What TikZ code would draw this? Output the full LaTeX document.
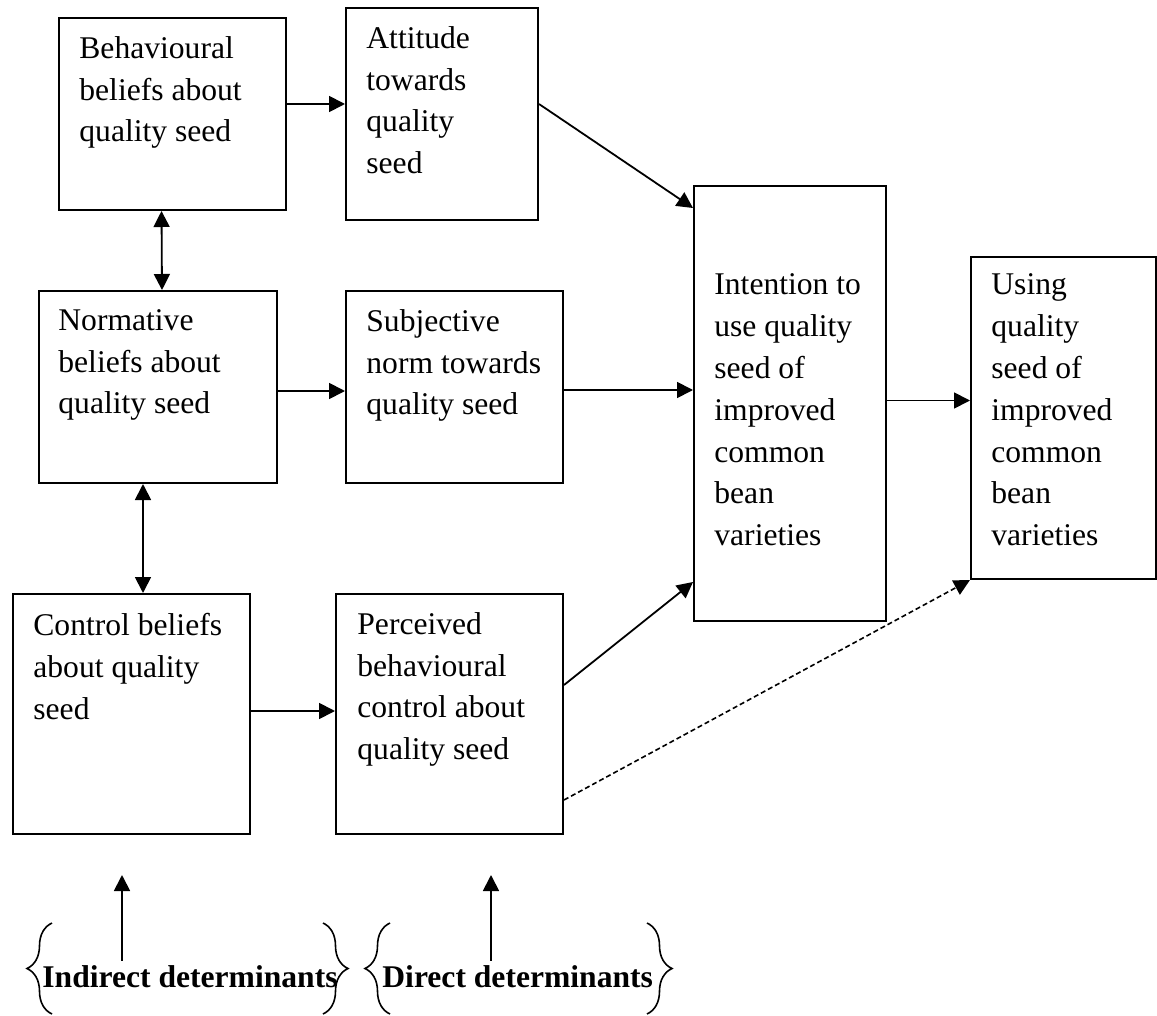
\documentclass[tikz,border=0pt]{standalone}
\usepackage{fontspec}
\setmainfont{Liberation Serif}
\usetikzlibrary{arrows.meta,decorations.pathreplacing}
\newcommand{\boxfont}{\fontsize{15.8pt}{20.9pt}\selectfont}
\tikzset{
  tpbbox/.style={draw,line width=1pt,anchor=north west,inner sep=0pt},
  tpbtext/.style={anchor=north west,inner sep=0pt,align=left,font=\boxfont},
  detlabel/.style={anchor=base west,inner sep=0pt,font=\boxfont\bfseries},
  arrow/.style={-{Triangle[length=8pt,width=8pt]},line width=0.9pt},
  biarrow/.style={{Triangle[length=8pt,width=8pt]}-{Triangle[length=8pt,width=8pt]},line width=0.9pt},
  dasharrow/.style={arrow,line width=0.8pt,dash pattern=on 2.5pt off 1.5pt},
  detbrace/.style={decorate,decoration={brace,amplitude=12.5pt},line width=0.8pt}
}
\begin{document}
\begin{tikzpicture}[x=0.5pt,y=-0.5pt]
\useasboundingbox (0,0) rectangle (1157,1016);
% boxes
\node[tpbbox,minimum width=113.5pt,minimum height=96pt] (beh) at (58,17) {};
\node[tpbbox,minimum width=96pt,minimum height=106pt] (att) at (345,7) {};
\node[tpbbox,minimum width=119pt,minimum height=96pt] (nor) at (38,290) {};
\node[tpbbox,minimum width=108.5pt,minimum height=96pt] (sub) at (345,290) {};
\node[tpbbox,minimum width=118.5pt,minimum height=120pt] (con) at (12,593) {};
\node[tpbbox,minimum width=113.5pt,minimum height=120pt] (per) at (335,593) {};
\node[tpbbox,minimum width=96pt,minimum height=217.5pt] (int) at (693,185) {};
\node[tpbbox,minimum width=92.5pt,minimum height=161pt] (use) at (970,256) {};
% box texts
\node[tpbtext] (behtxt) at ([shift={(21,19)}]beh.north west) {Behavioural\\beliefs about\\quality seed};
\node[tpbtext] (atttxt) at ([shift={(21,19)}]att.north west) {Attitude\\towards\\quality\\seed};
\node[tpbtext] (nortxt) at ([shift={(20,19)}]nor.north west) {Normative\\beliefs about\\quality seed};
\node[tpbtext] (subtxt) at ([shift={(21,19)}]sub.north west) {Subjective\\norm towards\\quality seed};
\node[tpbtext] (contxt) at ([shift={(21,20)}]con.north west) {Control beliefs\\about quality\\seed};
\node[tpbtext] (pertxt) at ([shift={(22,19)}]per.north west) {Perceived\\behavioural\\control about\\quality seed};
\node[tpbtext] (inttxt) at ([shift={(21,88.5)}]int.north west) {Intention to\\use quality\\seed of\\improved\\common\\bean\\varieties};
\node[tpbtext] (usetxt) at ([shift={(21,17.5)}]use.north west) {Using\\quality\\seed of\\improved\\common\\bean\\varieties};
% connectors
\draw[arrow] ([yshift=5pt]beh.east) -- ([yshift=5pt]att.west);
\draw[arrow] ([yshift=5pt]att.east) -- ([yshift=-11.5pt]int.north west);
\draw[biarrow] ([xshift=-5.5pt]beh.south) -- ([xshift=2pt]nor.north);
\draw[biarrow] ([xshift=-7.5pt]nor.south) -- ([xshift=5.75pt]con.north);
\draw[arrow] ([yshift=-2pt]nor.east) -- ([yshift=-2pt]sub.west);
\draw[arrow] ([yshift=-1.5pt]sub.east) -- ([yshift=-1.5pt]sub.east -| int.west);
\draw[arrow] ([yshift=1.5pt]int.east) -- ([yshift=1.5pt]int.east -| use.west);
\draw[arrow] ([yshift=1.5pt]con.east) -- ([yshift=1.5pt]con.east -| per.west);
\draw[arrow] ([yshift=14.5pt]per.east) -- ([yshift=20pt]int.south west);
\draw[dasharrow] ([yshift=-43pt]per.east) -- (use.south west);
% determinants
\node[detlabel] (indet) at (42,987) {Indirect determinants};
\node[detlabel] (dirdet) at (382,987) {Direct determinants};
\coordinate (indtip) at (122,875);
\coordinate (dirtip) at (491,875);
\draw[arrow] ([yshift=2pt]indtip |- indet.north) -- (indtip);
\draw[arrow] ([yshift=2pt]dirtip |- dirdet.north) -- (dirtip);
\draw[detbrace] (52,1014) -- (52,923);
\draw[detbrace] (323,923) -- (323,1014);
\draw[detbrace] (390,1014) -- (390,923);
\draw[detbrace] (647,923) -- (647,1014);
\end{tikzpicture}
\end{document}
